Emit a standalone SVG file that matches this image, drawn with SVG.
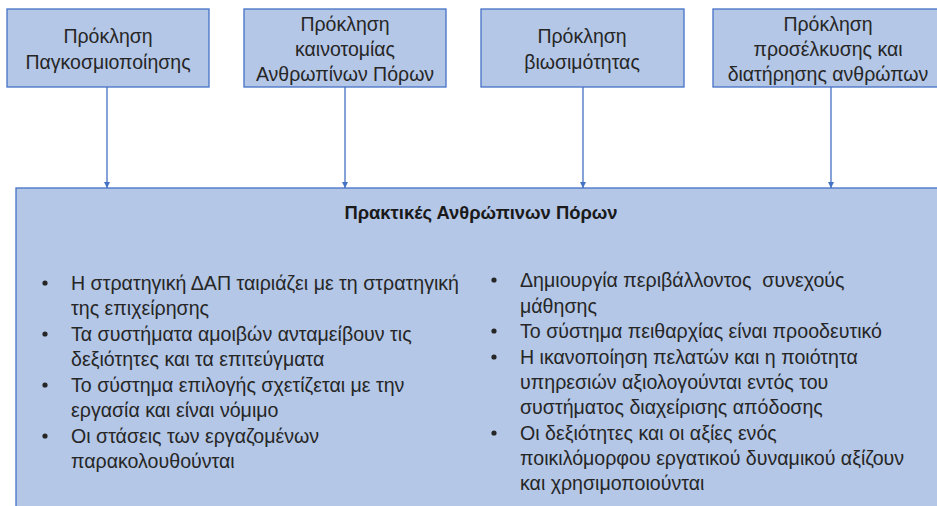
<svg xmlns="http://www.w3.org/2000/svg" width="937" height="506" viewBox="0 0 937 506">
  <style>
    .box { fill: #b4c7e7; stroke: #4472c4; stroke-width: 1.3; }
    .hdr { font-family: "Liberation Sans", Arial, sans-serif; font-size: 19.5px; fill: #262626; text-anchor: middle; }
    .ttl { font-family: "Liberation Sans", Arial, sans-serif; font-size: 18.4px; font-weight: bold; fill: #1a1a1a; text-anchor: middle; }
    .itm { font-family: "Liberation Sans", Arial, sans-serif; font-size: 19.6px; fill: #262626; }
    .blt { fill: #262626; }
    .con { stroke: #4472c4; stroke-width: 1.3; fill: none; marker-end: url(#arr); }
  </style>
  <defs>
    <marker id="arr" viewBox="0 0 10 10" refX="10" refY="5" markerWidth="6" markerHeight="6" markerUnits="userSpaceOnUse" orient="auto">
      <path d="M0,0 L10,5 L0,10 z" fill="#4472c4"/>
    </marker>
  </defs>

  <!-- challenge boxes -->
  <g id="challenge-globalisation">
    <rect class="box" x="7" y="9" width="202" height="78"/>
    <text class="hdr" x="108" y="43">Πρόκληση</text>
    <text class="hdr" x="108" y="69">Παγκοσμιοποίησης</text>
  </g>
  <g id="challenge-innovation">
    <rect class="box" x="244" y="9" width="202" height="78"/>
    <text class="hdr" x="345" y="31">Πρόκληση</text>
    <text class="hdr" x="345" y="56">καινοτομίας</text>
    <text class="hdr" x="345" y="81">Ανθρωπίνων Πόρων</text>
  </g>
  <g id="challenge-sustainability">
    <rect class="box" x="481" y="9" width="203" height="78"/>
    <text class="hdr" x="582" y="43">Πρόκληση</text>
    <text class="hdr" x="582" y="69">βιωσιμότητας</text>
  </g>
  <g id="challenge-retention">
    <rect class="box" x="713" y="9" width="232" height="78"/>
    <text class="hdr" x="828" y="31">Πρόκληση</text>
    <text class="hdr" x="828" y="56">προσέλκυσης και</text>
    <text class="hdr" x="828" y="81">διατήρησης ανθρώπων</text>
  </g>

  <!-- connectors -->
  <g id="connectors">
    <line class="con" x1="107" y1="87" x2="107" y2="188"/>
    <line class="con" x1="345" y1="87" x2="345" y2="188"/>
    <line class="con" x1="583" y1="87" x2="583" y2="188"/>
    <line class="con" x1="831" y1="87" x2="831" y2="188"/>
  </g>

  <!-- practices box -->
  <g id="hr-practices">
    <rect class="box" x="16" y="188" width="940" height="340"/>
    <text class="ttl" x="481" y="219">Πρακτικές Ανθρώπινων Πόρων</text>

    <!-- bullet dots -->
    <g class="blt">
      <circle cx="45" cy="283" r="2.6"/>
      <circle cx="45" cy="334" r="2.6"/>
      <circle cx="45" cy="385" r="2.6"/>
      <circle cx="45" cy="436" r="2.6"/>
      <circle cx="494" cy="280" r="2.6"/>
      <circle cx="494" cy="331" r="2.6"/>
      <circle cx="494" cy="357" r="2.6"/>
      <circle cx="494" cy="433" r="2.6"/>
    </g>
    <g class="itm">
      <text x="71" y="290">Η στρατηγική ΔΑΠ ταιριάζει με τη στρατηγική</text>
      <text x="71" y="315">της επιχείρησης</text>
      <text x="71" y="341">Τα συστήματα αμοιβών ανταμείβουν τις</text>
      <text x="71" y="366">δεξιότητες και τα επιτεύγματα</text>
      <text x="71" y="392">Το σύστημα επιλογής σχετίζεται με την</text>
      <text x="71" y="417">εργασία και είναι νόμιμο</text>
      <text x="71" y="443">Οι στάσεις των εργαζομένων</text>
      <text x="71" y="468">παρακολουθούνται</text>

      <text x="520" y="287" xml:space="preserve">Δημιουργία περιβάλλοντος  συνεχούς</text>
      <text x="520" y="313">μάθησης</text>
      <text x="520" y="338">Το σύστημα πειθαρχίας είναι προοδευτικό</text>
      <text x="520" y="364">Η ικανοποίηση πελατών και η ποιότητα</text>
      <text x="520" y="389">υπηρεσιών αξιολογούνται εντός του</text>
      <text x="520" y="414">συστήματος διαχείρισης απόδοσης</text>
      <text x="520" y="440">Οι δεξιότητες και οι αξίες ενός</text>
      <text x="520" y="465">ποικιλόμορφου εργατικού δυναμικού αξίζουν</text>
      <text x="520" y="490">και χρησιμοποιούνται</text>
    </g>
  </g>
</svg>
